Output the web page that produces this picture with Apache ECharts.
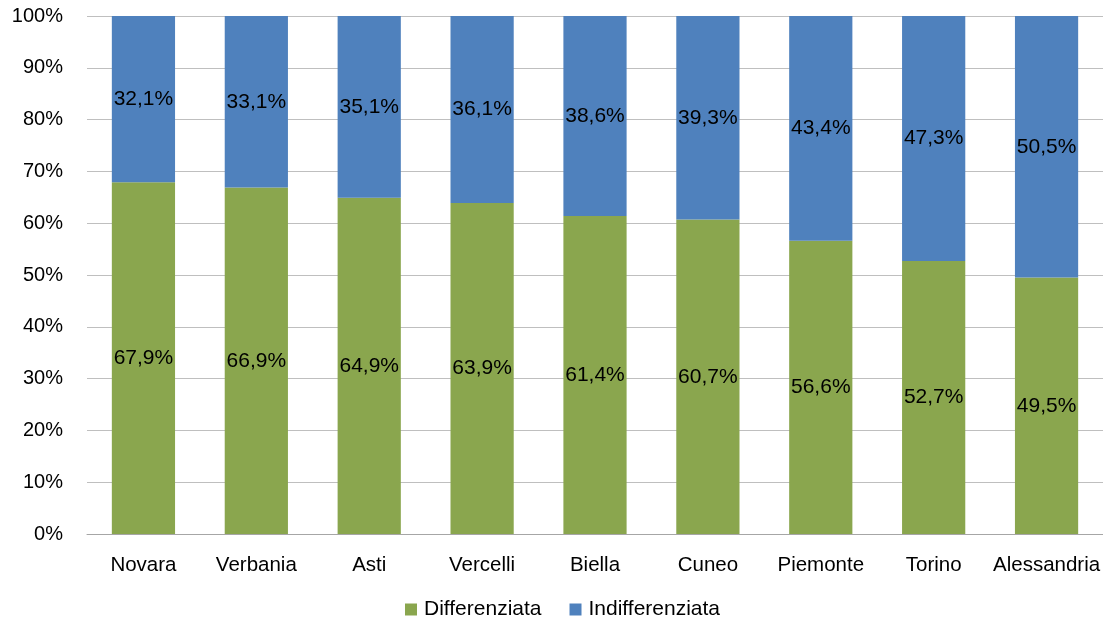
<!DOCTYPE html>
<html>
<head>
<meta charset="utf-8">
<script src="https://cdn.jsdelivr.net/npm/echarts@6/dist/echarts.min.js"></script>
<style>html,body{margin:0;padding:0;background:#fff;}#c{width:1103px;height:624px;}</style>
</head>
<body>
<div id="c"></div>
<script>
const categories = ['Novara','Verbania','Asti','Vercelli','Biella','Cuneo','Piemonte','Torino','Alessandria'];
const differenziata = [67.9, 66.9, 64.9, 63.9, 61.4, 60.7, 56.6, 52.7, 49.5];
const indifferenziata = [32.1, 33.1, 35.1, 36.1, 38.6, 39.3, 43.4, 47.3, 50.5];
const yTicks = [0,10,20,30,40,50,60,70,80,90,100];

const FONT = 'Liberation Sans';
const fmt = p => p.value.toFixed(1).replace('.', ',') + '%';
const chart = echarts.init(document.getElementById('c'), null, {renderer:'canvas'});
chart.setOption({
  animation:false,
  textStyle:{fontFamily:FONT},
  grid:{left:87, right:-4, top:16, bottom:90, containLabel:false},
  legend:{
    bottom:-1, left:400, itemWidth:12, itemHeight:12, itemGap:28,
    icon:'rect',
    textStyle:{fontFamily:FONT, fontSize:21, color:'#000', padding:[0,0,0,2]},
    data:['Differenziata','Indifferenziata']
  },
  xAxis:{
    type:'category', data:categories,
    axisLine:{show:true, lineStyle:{color:'#A6A6A6', width:1}},
    axisTick:{show:false},
    axisLabel:{fontFamily:FONT, fontSize:20.5, color:'#000', margin:21, interval:0}
  },
  yAxis:{
    type:'value', min:yTicks[0], max:yTicks[yTicks.length-1], interval:10,
    axisLine:{show:false}, axisTick:{show:false},
    splitLine:{lineStyle:{color:'#BFBFBF', width:1}},
    axisLabel:{fontFamily:FONT, fontSize:20, color:'#000', margin:24, formatter: v => v + '%'}
  },
  series:[
    {name:'Differenziata', type:'bar', stack:'t', data:differenziata, barCategoryGap:'44%',
     itemStyle:{color:'#8AA64E'},
     label:{show:true, position:'inside', formatter:fmt, fontFamily:FONT, fontSize:21, color:'#000'}},
    {name:'Indifferenziata', type:'bar', stack:'t', data:indifferenziata, barCategoryGap:'44%',
     itemStyle:{color:'#4F81BD'},
     label:{show:true, position:'inside', formatter:fmt, fontFamily:FONT, fontSize:21, color:'#000'}}
  ]
});
</script>
</body>
</html>
